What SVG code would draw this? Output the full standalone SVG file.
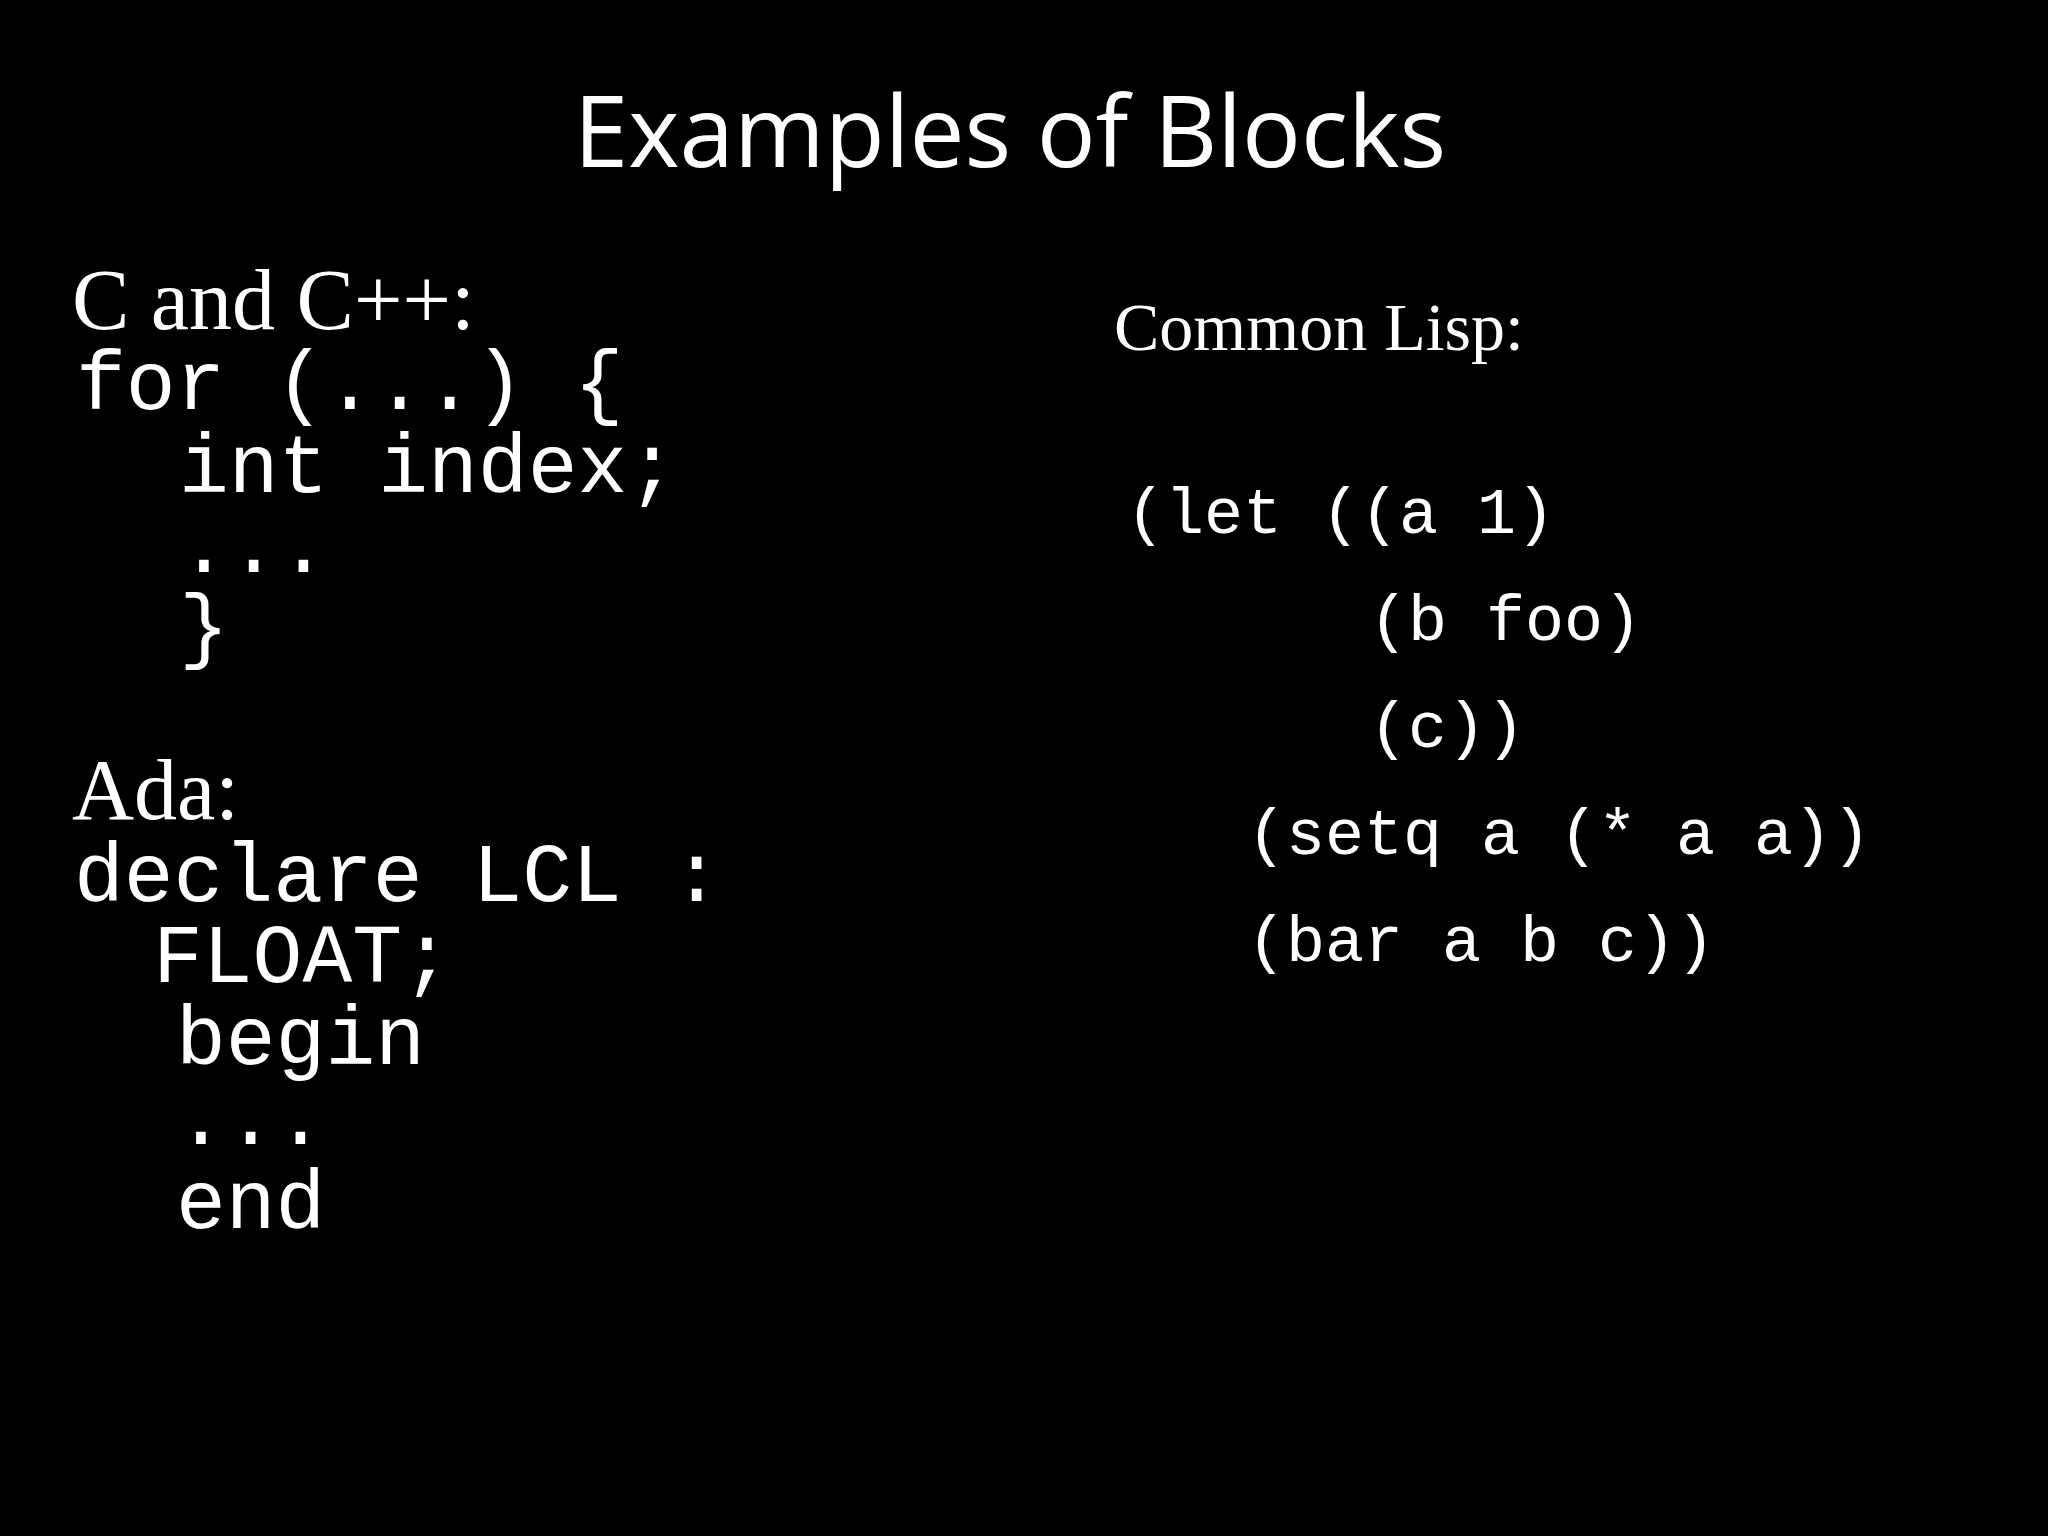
<svg xmlns="http://www.w3.org/2000/svg" width="2048" height="1536" viewBox="0 0 2048 1536">
<style>
.t{font-family:"Open Sans","Liberation Sans",sans-serif;font-size:98px;fill:#fff}
.s{font-family:"Liberation Serif",serif;fill:#fff}
.m{font-family:"Liberation Mono",monospace;fill:#fff;white-space:pre}
.c{font-size:83px}
.l{font-size:65px}
</style>
<rect width="2048" height="1536" fill="#000"/>
<text class="t" x="1010" y="167" text-anchor="middle">Examples of Blocks</text>
<g id="left">
<text class="s" x="72" y="329" font-size="86">C and C++:</text>
<text class="m c" x="76" y="409">for (...) {</text>
<text class="m c" x="179" y="492">int index;</text>
<text class="m c" x="179" y="572">...</text>
<text class="m c" x="179" y="653">}</text>
<text class="s" x="72" y="819" font-size="86">Ada:</text>
<text class="m c" x="74" y="901">declare LCL :</text>
<text class="m c" x="153" y="982">FLOAT;</text>
<text class="m c" x="176" y="1064">begin</text>
<text class="m c" x="176" y="1144">...</text>
<text class="m c" x="176" y="1228">end</text>
</g>
<g id="right">
<text class="s" x="1114" y="350" font-size="68">Common Lisp:</text>
<text class="m l" x="1126" y="533">(let ((a 1)</text>
<text class="m l" x="1369" y="640">(b foo)</text>
<text class="m l" x="1369" y="747">(c))</text>
<text class="m l" x="1247" y="854">(setq a (* a a))</text>
<text class="m l" x="1247" y="961">(bar a b c))</text>
</g>
</svg>
